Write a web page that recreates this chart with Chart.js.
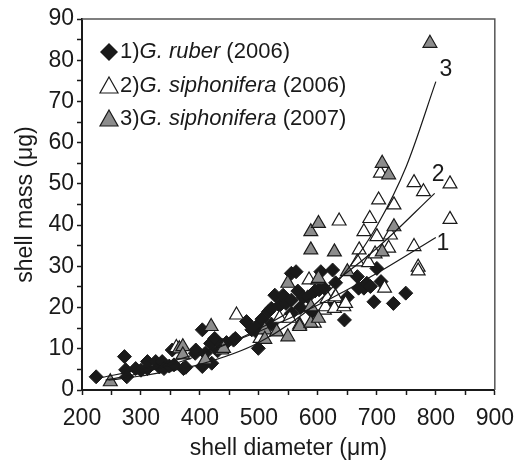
<!DOCTYPE html>
<html>
<head>
<meta charset="utf-8">
<script src="https://cdn.jsdelivr.net/npm/chart.js@4.4.0/dist/chart.umd.min.js"></script>
<style>
  html, body { margin: 0; padding: 0; background: #fff; }
</style>
</head>
<body>
<canvas id="massChart" width="524" height="460"></canvas>
<script>
// shell diameter (um) vs shell mass (ug)
const ruber2006 = [
  [224,3.2],[272,8.1],[274,4.9],[276,3.2],[291,5.2],[300,4.8],[311,6.9],[311,5.2],
  [325,6.9],[331,5.6],[336,6.9],[339,5.2],[348,5.8],[353,9.7],[356,6.1],[372,5.2],
  [376,5.5],[392,8.9],[393,9.7],[404,14.6],[404,5.7],[409,8.9],[418,11.3],[420,6.5],
  [425,12.5],[430,9.5],[437,10.9],[445,11.5],[457,12.1],[460,12.5],[479,16.6],[488,14.6],
  [496,15.4],[499,10.1],[500,13.5],[505,17.2],[516,19.0],[521,19.8],[521,16.0],[527,23.0],
  [535,20.5],[541,23.0],[546,21.0],[555,28.3],[555,21.8],[555,18.6],[563,28.7],[566,24.0],
  [570,20.0],[575,22.5],[583,22.6],[590,19.0],[595,24.0],[602,24.3],[605,28.7],[611,24.7],
  [618,21.0],[625,29.1],[630,26.0],[645,17.0],[650,22.5],[667,27.5],[669,24.7],[678,24.7],
  [683,25.9],[689,25.1],[695,21.4],[700,29.5],[707,26.3],[728,21.0],[749,23.5]
];
const siphonifera2006 = [
  [360,10.3],[462,18.2],[502,12.5],[535,17.4],[552,17.4],[569,15.8],[585,26.7],[594,16.2],
  [611,19.4],[613,20.2],[616,22.2],[628,22.2],[628,19.8],[630,22.6],[636,41.0],[644,20.2],
  [647,21.0],[667,31.1],[670,34.0],[678,38.4],[686,30.9],[688,41.6],[697,33.0],[700,37.2],
  [703,46.1],[706,52.6],[713,24.7],[720,34.4],[723,37.6],[729,44.9],[763,50.3],[763,34.8],
  [770,29.8],[770,28.9],[779,48.1],[824,50.0],[824,41.4]
];
const siphonifera2007 = [
  [248,2.0],[365,10.0],[371,10.5],[371,8.5],[409,7.3],[419,15.4],[437,9.7],[440,10.1],
  [510,14.6],[510,12.3],[530,14.1],[549,25.9],[549,12.9],[569,15.4],[588,38.4],[588,34.0],
  [588,20.2],[588,16.2],[600,26.7],[601,40.4],[601,27.1],[601,17.4],[628,33.5],[650,28.7],
  [709,55.0],[709,33.5],[720,52.2],[729,39.6],[790,84.1]
];

// fitted curves
const fit1 = [[232,3.0],[300,5.0],[400,9.0],[500,14.2],[600,20.6],[700,28.3],[800,37.0]];
const fit2 = [[240,2.4],[300,4.1],[400,8.5],[500,14.8],[600,23.4],[700,34.4],[798,47.7]];
const fit3 = [[245,2.4],[300,3.4],[400,6.2],[500,11.5],[600,21.4],[650,29.2],[700,39.8],[750,54.3],[800,74.8]];

const curveTags = ['1', '2', '3'];
const curveTagX = [812, 804, 817];
const curveTagY = [35.6, 52.2, 77.6];

const keyNums = ['1)', '2)', '3)'];
const keyNames = ['G. ruber', 'G. siphonifera', 'G. siphonifera'];
const keyYears = [' (2006)', ' (2006)', ' (2007)'];

const FONT = '"Liberation Sans", Arial, sans-serif';
const INK = '#1a1a1a';
const GREY = '#8c8c8c';

const toXY = arr => arr.map(p => ({ x: p[0], y: p[1] }));

function fitLine(data) {
  return {
    type: 'line', data: toXY(data), order: 0,
    borderColor: INK, borderWidth: 1.2, pointRadius: 0,
    cubicInterpolationMode: 'monotone', fill: false
  };
}

// frame on top/right, curve numbers and the key
const frameAndKey = {
  id: 'frameAndKey',
  afterDraw(chart) {
    const { ctx, chartArea: a, scales: { x, y } } = chart;
    ctx.save();
    ctx.strokeStyle = '#555';
    ctx.lineWidth = 1.5;
    ctx.beginPath();
    ctx.moveTo(a.left, a.top);
    ctx.lineTo(a.right, a.top);
    ctx.lineTo(a.right, a.bottom);
    ctx.stroke();

    ctx.fillStyle = INK;
    ctx.font = '23px ' + FONT;
    ctx.textAlign = 'center';
    ctx.textBaseline = 'middle';
    curveTags.forEach((t, i) => {
      ctx.fillText(t, x.getPixelForValue(curveTagX[i]), y.getPixelForValue(curveTagY[i]));
    });

    const rows = [52, 86, 119];
    const mx = a.left + 27;
    ctx.lineWidth = 1.2;
    ctx.strokeStyle = INK;
    // diamond
    let cy = rows[0];
    ctx.beginPath();
    ctx.moveTo(mx - 9, cy); ctx.lineTo(mx, cy - 9); ctx.lineTo(mx + 9, cy); ctx.lineTo(mx, cy + 9);
    ctx.closePath();
    ctx.fillStyle = INK; ctx.fill();
    // triangles
    [['#fff', rows[1]], [GREY, rows[2]]].forEach(([fillC, ty]) => {
      ctx.beginPath();
      ctx.moveTo(mx, ty - 9); ctx.lineTo(mx + 9, ty + 7); ctx.lineTo(mx - 9, ty + 7);
      ctx.closePath();
      ctx.fillStyle = fillC; ctx.fill(); ctx.stroke();
    });

    ctx.textAlign = 'left';
    ctx.fillStyle = INK;
    rows.forEach((ry, i) => {
      let tx = a.left + 38;
      ctx.font = '22px ' + FONT;
      ctx.fillText(keyNums[i], tx, ry);
      tx += ctx.measureText(keyNums[i]).width;
      ctx.font = 'italic 22px ' + FONT;
      ctx.fillText(keyNames[i], tx, ry);
      tx += ctx.measureText(keyNames[i]).width;
      ctx.font = '22px ' + FONT;
      ctx.fillText(keyYears[i], tx, ry);
    });
    ctx.restore();
  }
};

new Chart(document.getElementById('massChart'), {
  type: 'scatter',
  data: {
    datasets: [
      fitLine(fit1), fitLine(fit2), fitLine(fit3),
      {
        label: '3)G. siphonifera (2007)', data: toXY(siphonifera2007), order: 1,
        pointStyle: 'triangle', pointRadius: 8, backgroundColor: GREY,
        borderColor: INK, borderWidth: 1.2
      },
      {
        label: '2)G. siphonifera (2006)', data: toXY(siphonifera2006), order: 2,
        pointStyle: 'triangle', pointRadius: 8, backgroundColor: '#fff',
        borderColor: INK, borderWidth: 1.2
      },
      {
        label: '1)G. ruber (2006)', data: toXY(ruber2006), order: 3,
        pointStyle: 'rectRot', pointRadius: 7, backgroundColor: INK,
        borderColor: INK, borderWidth: 1
      }
    ]
  },
  options: {
    responsive: false,
    animation: false,
    layout: { padding: { top: 19, right: 25, left: 0, bottom: 0 } },
    plugins: { legend: { display: false }, tooltip: { enabled: false } },
    scales: {
      x: {
        type: 'linear', min: 200, max: 900,
        afterFit: s => { s.height = 70; },
        ticks: {
          stepSize: 50, padding: 10, color: INK, autoSkip: false,
          maxRotation: 0, minRotation: 0,
          font: { family: FONT, size: 23 },
          callback: v => (v % 100 === 0 ? v : '')
        },
        grid: { drawOnChartArea: false, tickLength: 5, tickColor: INK, tickWidth: 1.5 },
        border: { color: INK, width: 2 },
        title: {
          display: true, text: 'shell diameter (μm)', color: INK,
          font: { family: FONT, size: 23, lineHeight: 1 }, padding: 0
        }
      },
      y: {
        type: 'linear', min: 0, max: 90,
        afterFit: s => { s.width = 82; },
        ticks: {
          stepSize: 5, padding: 3, color: INK, autoSkip: false,
          font: { family: FONT, size: 23 },
          callback: v => (v % 10 === 0 ? v : '')
        },
        grid: { drawOnChartArea: false, tickLength: 5, tickColor: INK, tickWidth: 1.5 },
        border: { color: INK, width: 2 },
        title: {
          display: true, text: 'shell mass (μg)', color: INK,
          font: { family: FONT, size: 23 }, padding: { top: 12, bottom: 0 }
        }
      }
    }
  },
  plugins: [frameAndKey]
});
</script>
</body>
</html>
